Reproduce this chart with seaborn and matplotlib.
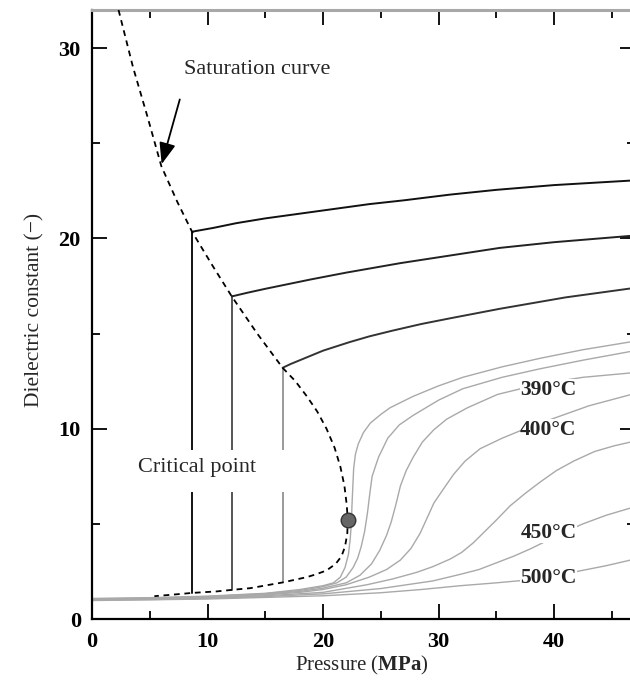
import matplotlib
matplotlib.use("Agg")
import matplotlib.pyplot as plt
import seaborn as sns
from matplotlib.patches import Rectangle
from matplotlib.ticker import MultipleLocator

# ---------------- data ----------------
# saturation curve (liquid branch -> critical point -> vapour branch)
sat_P = [2.3, 3.55, 4.8, 6.0, 7.4, 8.66, 10.4, 12.1, 14.3, 16.5, 17.6, 18.6, 19.5, 20.3, 21.0,
         21.5, 21.85, 22.05, 22.14, 22.1, 21.9, 21.6, 21.1, 20.3, 19.4, 18.6, 16.5, 13.7, 12.1,
         10.8, 8.66, 7.0, 5.4]
sat_eps = [32.0, 29.0, 26.4, 23.8, 21.9, 20.35, 18.6, 16.95, 15.0, 13.2, 12.5, 11.7, 10.9, 10.0, 9.0,
           8.0, 7.0, 6.0, 5.2, 4.5, 3.8, 3.3, 2.9, 2.55, 2.35, 2.2, 1.92, 1.62, 1.53,
           1.45, 1.37, 1.28, 1.2]

# sub-critical isotherms (saturation vapour point -> vertical -> liquid branch)
iso1_P = [8.66, 8.66, 10.5, 12.5, 15.0, 18.0, 21.0, 24.0, 27.0, 31.0, 35.0, 40.0, 47.0]
iso1_eps = [1.37, 20.35, 20.55, 20.8, 21.05, 21.3, 21.55, 21.8, 22.0, 22.3, 22.55, 22.8, 23.05]
iso2_P = [12.1, 12.1, 13.5, 15.0, 17.0, 19.0, 22.0, 26.7, 31.0, 35.3, 40.0, 47.0]
iso2_eps = [1.53, 16.95, 17.15, 17.35, 17.6, 17.85, 18.2, 18.7, 19.1, 19.5, 19.8, 20.15]
iso3_P = [16.5, 16.5, 17.2, 18.0, 19.0, 20.0, 22.3, 24.0, 26.0, 28.5, 31.0, 35.3, 41.0, 47.0]
iso3_eps = [1.95, 13.2, 13.4, 13.6, 13.85, 14.1, 14.55, 14.85, 15.15, 15.5, 15.8, 16.3, 16.9, 17.4]

# super-critical isotherms
t380_P = [0, 5, 10, 15, 18, 20, 20.9, 21.5, 21.9, 22.2, 22.35, 22.45, 22.5, 22.58, 22.65, 22.8,
          23.05, 23.5, 24.1, 25.0, 25.8, 27.8, 30.0, 32.1, 35.5, 38.8, 42.5, 47.0]
t380_eps = [1.08, 1.12, 1.2, 1.35, 1.55, 1.75, 1.9, 2.2, 2.7, 3.4, 4.2, 5.0, 5.9, 7.0, 7.9, 8.65,
            9.2, 9.8, 10.3, 10.75, 11.1, 11.7, 12.25, 12.7, 13.25, 13.7, 14.15, 14.6]
t385_P = [0, 5, 10, 15, 18, 20, 21.2, 22.0, 22.6, 23.0, 23.3, 23.6, 23.85, 24.05, 24.25, 24.8,
          25.6, 26.6, 27.8, 30.0, 32.1, 35.5, 38.8, 42.5, 47.0]
t385_eps = [1.06, 1.1, 1.18, 1.33, 1.5, 1.7, 1.9, 2.2, 2.7, 3.2, 3.8, 4.6, 5.6, 6.6, 7.5, 8.5,
            9.5, 10.2, 10.7, 11.5, 12.1, 12.7, 13.15, 13.6, 14.1]
t390_P = [0, 5, 10, 15, 18, 20, 22.0, 23.2, 24.2, 24.9, 25.5, 25.9, 26.3, 26.7, 27.2, 27.8,
          28.6, 29.6, 30.7, 32.5, 35.1, 38.8, 42.5, 47.0]
t390_eps = [1.05, 1.08, 1.16, 1.3, 1.45, 1.62, 1.9, 2.3, 2.9, 3.6, 4.4, 5.1, 6.0, 7.0, 7.8, 8.5,
            9.3, 9.95, 10.5, 11.1, 11.8, 12.35, 12.7, 12.95]
t400_P = [0, 5, 10, 15, 18, 20, 22, 24, 25.5, 26.7, 27.6, 28.4, 29.0, 29.6, 30.5, 31.3, 32.3,
          33.6, 35.5, 37.1, 40.0, 43.0, 47.0]
t400_eps = [1.03, 1.06, 1.14, 1.27, 1.4, 1.55, 1.8, 2.2, 2.6, 3.1, 3.7, 4.5, 5.3, 6.1, 6.9, 7.6,
            8.3, 8.95, 9.5, 9.9, 10.55, 11.2, 11.85]
t425_P = [0, 5, 10, 15, 20, 23.8, 26.0, 28.1, 29.5, 31.0, 32.0, 33.0, 34.0, 35.0, 36.2, 37.5,
          38.8, 40.2, 41.7, 43.5, 45.2, 47.0]
t425_eps = [1.01, 1.04, 1.11, 1.22, 1.4, 1.8, 2.1, 2.45, 2.75, 3.15, 3.5, 4.0, 4.6, 5.2, 5.95, 6.6,
            7.2, 7.8, 8.3, 8.8, 9.1, 9.35]
t450_P = [0, 5, 10, 15, 20, 25, 29.5, 31.9, 33.5, 35.0, 36.5, 38.0, 39.5, 41.0, 42.5, 44.5, 47.0]
t450_eps = [0.99, 1.02, 1.08, 1.18, 1.32, 1.6, 2.0, 2.35, 2.6, 2.95, 3.3, 3.7, 4.15, 4.6, 5.0, 5.45, 5.9]
t500_P = [0, 10, 20, 25, 28.5, 31.9, 35.0, 37.7, 40.0, 42.0, 44.5, 47.0]
t500_eps = [0.97, 1.05, 1.22, 1.38, 1.55, 1.75, 1.9, 2.05, 2.25, 2.5, 2.8, 3.15]

crit_P = [22.14]
crit_eps = [5.2]

iso_labels = ["390°C", "400°C", "450°C", "500°C"]
iso_label_P = [39.5, 39.5, 39.5, 39.5]
iso_label_eps = [12.05, 9.95, 4.53, 2.16]

x_ticks = [0, 10, 20, 30, 40]
x_ticklabels = ["0", "10", "20", "30", "40"]
y_ticks = [0, 10, 20, 30]
y_ticklabels = ["0", "10", "20", "30"]

# ---------------- style ----------------
sns.set_style("ticks")
plt.rcParams["font.family"] = ["Liberation Serif", "DejaVu Serif"]
plt.rcParams["mathtext.fontset"] = "custom"
plt.rcParams["mathtext.rm"] = "Liberation Serif"
plt.rcParams["mathtext.bf"] = "Liberation Serif:bold"

fig = plt.figure(figsize=(6.3, 6.81), dpi=100)
ax = fig.add_axes([0.1460, 0.09104, 0.8619, 0.89427])

gray = "#a9a9a9"
for P, e in [(t380_P, t380_eps), (t385_P, t385_eps), (t390_P, t390_eps), (t400_P, t400_eps),
             (t425_P, t425_eps), (t450_P, t450_eps), (t500_P, t500_eps)]:
    sns.lineplot(x=P, y=e, sort=False, estimator=None, color=gray, lw=1.0, ax=ax, zorder=2)

# sub-critical isotherms: vertical two-phase segment + liquid branch
vert_colors = ["#111111", "#555555", "#9a9a9a"]
liq_colors = ["#111111", "#222222", "#333333"]
for (P, e), vc, lc in zip([(iso1_P, iso1_eps), (iso2_P, iso2_eps), (iso3_P, iso3_eps)],
                          vert_colors, liq_colors):
    sns.lineplot(x=P[:2], y=e[:2], sort=False, estimator=None, color=vc, lw=1.4, ax=ax, zorder=3)
    sns.lineplot(x=P[1:], y=e[1:], sort=False, estimator=None, color=lc, lw=1.4, ax=ax, zorder=3)

sns.lineplot(x=sat_P, y=sat_eps, sort=False, estimator=None, color="black", lw=1.3,
             linestyle=(0, (3.2, 2.6)), ax=ax, zorder=4)

sns.scatterplot(x=crit_P, y=crit_eps, s=110, color="#666666", edgecolor="#333333",
                linewidth=1.0, ax=ax, zorder=6)

# white box behind "Critical point"
ax.add_patch(Rectangle((3.3, 6.68), 14.3, 2.22, facecolor="white", edgecolor="none", zorder=5))
ax.text(9.1, 7.95, "Critical point", ha="center", va="center", fontsize=16, zorder=7)

ax.text(14.3, 28.85, "Saturation curve", ha="center", va="center", fontsize=16, zorder=7)
ax.annotate("", xy=(6.03, 23.9), xytext=(7.6, 27.3),
            arrowprops=dict(arrowstyle="-|>,head_length=1.3,head_width=0.5", color="black",
                            lw=1.3, shrinkA=0, shrinkB=0), zorder=7)

for lab, px, pe in zip(iso_labels, iso_label_P, iso_label_eps):
    ax.text(px, pe, lab, ha="center", va="center", fontsize=15.5, fontweight="bold", zorder=7,
            bbox=dict(facecolor="white", edgecolor="none", pad=0.3))

# ---------------- axes ----------------
ax.set_xlim(0, 47)
ax.set_ylim(0, 32)
ax.set_xticks(x_ticks)
ax.set_xticklabels(x_ticklabels, fontsize=16, fontweight="bold")
ax.set_yticks(y_ticks)
ax.set_yticklabels(y_ticklabels, fontsize=16, fontweight="bold")
ax.xaxis.set_minor_locator(MultipleLocator(5))
ax.yaxis.set_minor_locator(MultipleLocator(5))
ax.tick_params(which="both", direction="in", top=True, right=True, width=1.3, color="black",
               labelcolor="black")
ax.tick_params(which="major", length=11)
ax.tick_params(axis="x", which="major", pad=9)
ax.tick_params(axis="y", which="major", pad=8)
ax.tick_params(which="minor", length=6)

for side in ["left", "bottom"]:
    ax.spines[side].set_color("black")
    ax.spines[side].set_linewidth(1.6)
ax.spines["top"].set_color("#a8a8a8")
ax.spines["top"].set_linewidth(2.2)
ax.spines["right"].set_color("black")
ax.spines["right"].set_linewidth(1.6)

ax.set_xlabel(r"Pressure ($\mathbf{MPa}$)", fontsize=15)
ax.set_ylabel("Dielectric constant (−)", fontsize=15.5)
ax.xaxis.set_label_coords(0.497, -0.057)
ax.yaxis.set_label_coords(-0.088, 0.507)

fig.savefig("out.png", dpi=100)
